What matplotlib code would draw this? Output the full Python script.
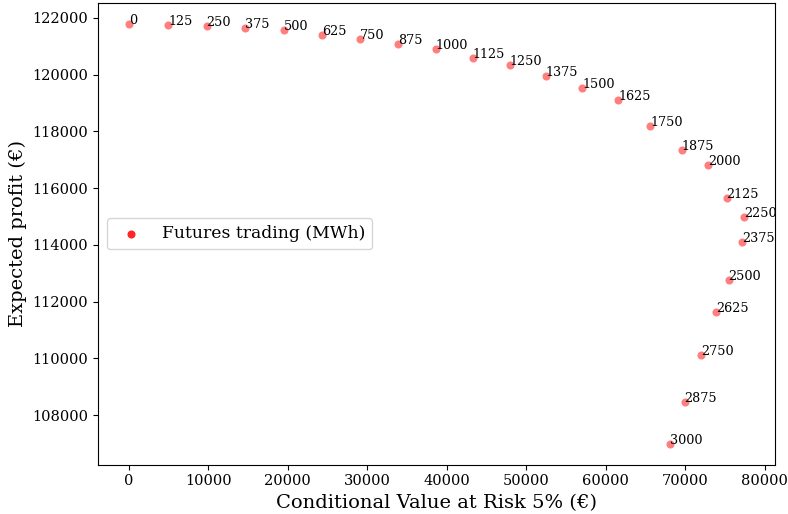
import matplotlib
matplotlib.use("Agg")
import matplotlib.pyplot as plt

futures = [0, 125, 250, 375, 500, 625, 750, 875, 1000, 1125, 1250, 1375, 1500,
           1625, 1750, 1875, 2000, 2125, 2250, 2375, 2500, 2625, 2750, 2875, 3000]
cvar = [0, 4940, 9800, 14670, 19500, 24280, 29120, 33900, 38640, 43260, 47960,
        52490, 57030, 61560, 65590, 69550, 72900, 75210, 77430, 77180, 75470,
        73900, 72020, 69920, 68070]
profit = [121788, 121764, 121718, 121647, 121566, 121390, 121249, 121083, 120918,
          120600, 120353, 119954, 119531, 119097, 118201, 117355, 116815, 115640,
          114981, 114089, 112770, 111620, 110125, 108467, 107000]

plt.rcParams['font.family'] = ['DejaVu Serif']

fig = plt.figure(figsize=(7.88, 5.14), dpi=100)
ax = fig.add_axes([98/788, 1 - 464.5/514, (775 - 98)/788, (464.5 - 3)/514])

sc = ax.scatter(cvar, profit, s=34, color='red', alpha=0.5, linewidths=0,
                label='Futures trading (MWh)')
for f, x, y in zip(futures, cvar, profit):
    ax.annotate(str(f), (x, y), fontsize=9.2)

ax.set_xlabel('Conditional Value at Risk 5% (€)', fontsize=14)
ax.set_ylabel('Expected profit (€)', fontsize=14)
ax.tick_params(labelsize=10.5)
ax.set_xticks([0, 10000, 20000, 30000, 40000, 50000, 60000, 70000, 80000])
ax.set_yticks([108000, 110000, 112000, 114000, 116000, 118000, 120000, 122000])

leg = ax.legend(loc='center left', fontsize=12.4)
for h in leg.legend_handles:
    h.set_alpha(0.85)

fig.savefig('out.png', dpi=100)
